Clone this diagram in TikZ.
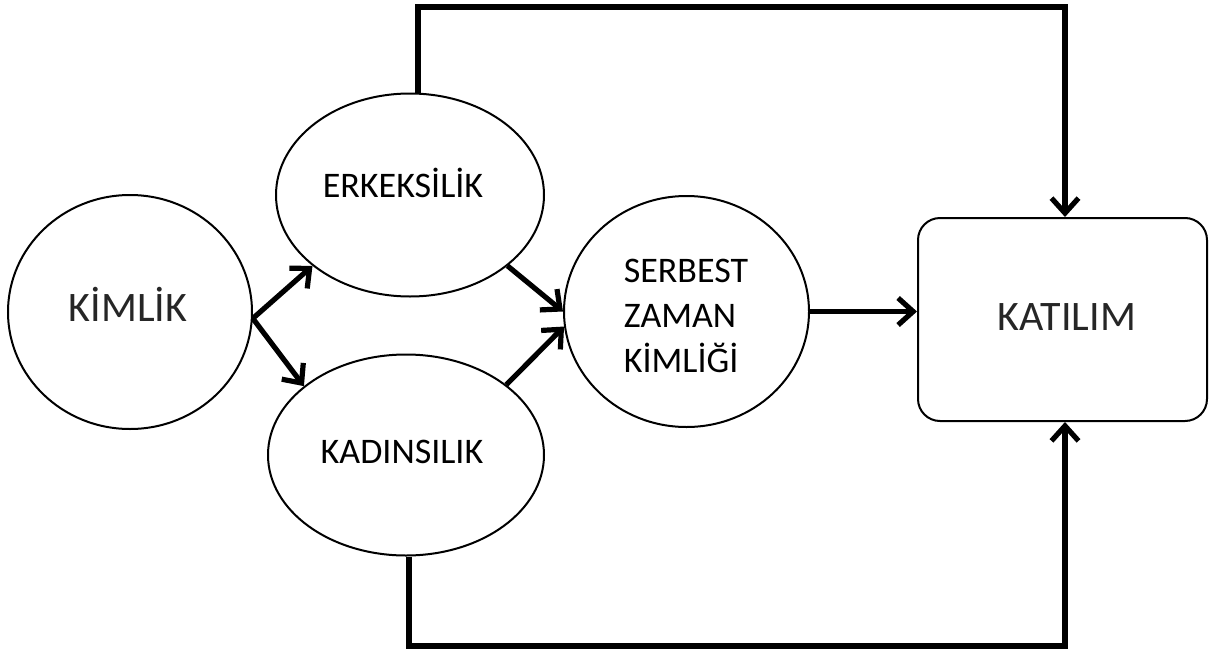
\documentclass[tikz,border=0pt]{standalone}
\usepackage{fontspec}
\setmainfont{Carlito}
\usetikzlibrary{arrows.meta,shapes.geometric}
\begin{document}
\begin{tikzpicture}[x=1pt,y=-1pt,
  shapeline/.style={draw, line width=2pt, inner sep=0pt},
  oval/.style={shapeline, ellipse},
  bigtext/.style={font=\fontsize{42}{45}\selectfont, text=black!85},
  midtext/.style={font=\fontsize{36}{45}\selectfont, text=black},
  conn/.style={line width=5.2pt, -{Straight Barb[length=15pt,width=27pt]}}]
\useasboundingbox (0,0) rectangle (1210,653);
% shapes
\node[oval, minimum width=244, minimum height=234] (kim) at (130,312) {};
\node[oval, minimum width=268, minimum height=203] (erk) at (410,195) {};
\node[oval, minimum width=276, minimum height=201] (kad) at (406,455) {};
\node[oval, minimum width=245, minimum height=231] (ser) at (686.5,311.5) {};
\node[shapeline, rectangle, rounded corners=22pt, minimum width=289, minimum height=203] (kat) at (1062.5,319.5) {};
% texts
\node[bigtext] (kimt) at (128,304) {KİMLİK};
\node[midtext] (erkt) at (403,183) {ERKEKSİLİK};
\node[midtext] (kadt) at (402,452) {KADINSILIK};
\node[midtext, align=left] (sert) at (686,316) {SERBEST\\ZAMAN\\KİMLİĞİ};
\node[bigtext] (katt) at (1067,317) {KATILIM};
% connectors
\draw[conn] (kim.-3) -- (erk.216.6);
\draw[conn] (kim.-3) -- (kad.146.6);
\draw[conn] (erk.-36.3) -- (ser.180.7);
\draw[conn] (kad.35.3) -- (ser.187.6);
\draw[conn] (ser.east) -- (kat.west |- ser.east);
\coordinate (tl) at (418,7);
\coordinate (tr) at (1065,7);
\coordinate (bl) at (409,646);
\coordinate (br) at (1065,646);
\draw[conn] (tl |- erk.north) -- (tl) -- (tr) -- (tr |- kat.north);
\draw[conn] (bl |- kad.south) -- (bl) -- (br) -- (br |- kat.south);
\end{tikzpicture}
\end{document}
